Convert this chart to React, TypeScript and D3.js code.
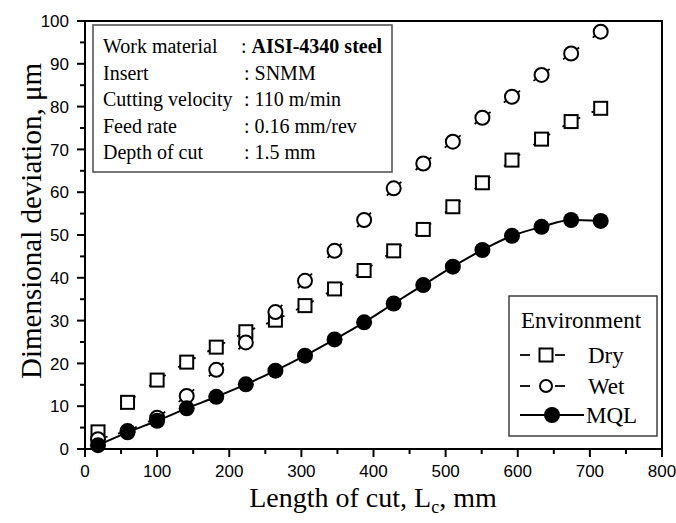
import React from "react";
import * as d3 from "d3";

const lengths = [18, 59, 100, 141, 182, 223, 264, 305, 346, 387, 428, 469, 510, 551, 592, 633, 674, 715];
const dry = [4.0, 10.9, 16.1, 20.3, 23.8, 27.4, 30.1, 33.5, 37.4, 41.7, 46.3, 51.3, 56.6, 62.2, 67.5, 72.4, 76.5, 79.6];
const wet = [2.3, 4.2, 7.3, 12.4, 18.5, 24.9, 32.0, 39.3, 46.3, 53.5, 60.9, 66.7, 71.8, 77.4, 82.3, 87.4, 92.4, 97.5];
const mql = [0.9, 3.9, 6.6, 9.5, 12.2, 15.1, 18.3, 21.8, 25.6, 29.6, 34.0, 38.3, 42.6, 46.5, 49.8, 51.9, 53.5, 53.3];

const xTicks = [0, 100, 200, 300, 400, 500, 600, 700, 800];
const yTicks = [0, 10, 20, 30, 40, 50, 60, 70, 80, 90, 100];
const infoLabels = ["Work material", "Insert", "Cutting velocity", "Feed rate", "Depth of cut"];
const infoValues = [": AISI-4340 steel", ": SNMM", ": 110 m/min", ": 0.16 mm/rev", ": 1.5 mm"];
const legendTitle = "Environment";
const legendNames = ["Dry", "Wet", "MQL"];

const W = 676, H = 523;
const L = 85, R = 662, T = 21, B = 449;

export default function App() {
  const x = d3.scaleLinear().domain([0, 800]).range([L, R]);
  const y = d3.scaleLinear().domain([0, 100]).range([B, T]);
  const serif = "'Liberation Serif', 'Times New Roman', serif";
  const sans = "'Liberation Sans', Arial, sans-serif";

  const dashedSegments = (vals: number[], hide: number) =>
    vals.slice(1).map((v, i) => {
      const x1 = x(lengths[i]), y1 = y(vals[i]), x2 = x(lengths[i + 1]), y2 = y(v);
      const len = Math.hypot(x2 - x1, y2 - y1);
      const a = hide;
      return (
        <line key={i} x1={x1} y1={y1} x2={x2} y2={y2} stroke="#000" strokeWidth={1.8}
          strokeDasharray={`${a} ${Math.max(0, len - 2 * a)} ${a}`} />
      );
    });

  const mqlLine = d3.line<number>().x((_, i) => x(lengths[i])).y((d) => y(d)).curve(d3.curveMonotoneX)(mql) || "";

  const minorX = d3.range(0, 801, 50).filter((v) => v % 100 !== 0);
  const minorY = d3.range(0, 101, 5).filter((v) => v % 10 !== 0);

  const lgX = 552;
  const lgRows = [355, 386, 415];

  return (
    <svg width={W} height={H} style={{ position: "absolute", left: 0, top: 0, background: "#fff" }}>
      {/* Info box */}
      <rect x={93} y={25} width={299} height={147} fill="#fff" stroke="#555" strokeWidth={1.6} />
      {infoLabels.map((t, i) => (
        <text key={t} x={103} y={53 + i * 26.6} fontFamily={serif} fontSize={20} fill="#000">{t}</text>
      ))}
      {infoValues.map((t, i) =>
        i === 0 ? (
          <text key={t} x={241} y={53} fontFamily={serif} fontSize={20} fill="#000">
            <tspan>: </tspan><tspan fontWeight="bold">AISI-4340 steel</tspan>
          </text>
        ) : (
          <text key={t} x={244} y={53 + i * 26.6} fontFamily={serif} fontSize={20} fill="#000">{t}</text>
        )
      )}

      {/* series */}
      {dashedSegments(dry, 10)}
      {dashedSegments(wet, 10)}
      <path d={mqlLine} fill="none" stroke="#000" strokeWidth={2} />
      {dry.map((v, i) => (
        <rect key={"d" + i} x={x(lengths[i]) - 6.5} y={y(v) - 6.5} width={13} height={13} fill="#fff" stroke="#000" strokeWidth={2} />
      ))}
      {wet.map((v, i) => (
        <circle key={"w" + i} cx={x(lengths[i])} cy={y(v)} r={7} fill="#fff" stroke="#000" strokeWidth={2} />
      ))}
      {mql.map((v, i) => (
        <circle key={"m" + i} cx={x(lengths[i])} cy={y(v)} r={8} fill="#000" />
      ))}

      {/* frame */}
      <rect x={L} y={T} width={R - L} height={B - T} fill="none" stroke="#000" strokeWidth={2} />

      {/* x ticks */}
      {xTicks.map((t) => (
        <g key={"xt" + t}>
          <line x1={x(t)} x2={x(t)} y1={B} y2={B + 8} stroke="#000" strokeWidth={2} />
          <text x={x(t)} y={477} textAnchor="middle" fontFamily={sans} fontSize={17} fill="#000">{t}</text>
        </g>
      ))}
      {minorX.map((t) => (
        <line key={"xm" + t} x1={x(t)} x2={x(t)} y1={B} y2={B + 5} stroke="#000" strokeWidth={2} />
      ))}
      {/* y ticks */}
      {yTicks.map((t) => (
        <g key={"yt" + t}>
          <line x1={L - 8} x2={L} y1={y(t)} y2={y(t)} stroke="#000" strokeWidth={2} />
          <text x={69} y={y(t)} dy="0.36em" textAnchor="end" fontFamily={sans} fontSize={17} fill="#000">{t}</text>
        </g>
      ))}
      {minorY.map((t) => (
        <line key={"ym" + t} x1={L - 5} x2={L} y1={y(t)} y2={y(t)} stroke="#000" strokeWidth={2} />
      ))}

      {/* axis titles */}
      <text x={373} y={507} textAnchor="middle" fontFamily={serif} fontSize={28} fill="#000">
        <tspan>Length of cut, L</tspan><tspan fontSize={18} dy={6}>c</tspan><tspan dy={-6}>, mm</tspan>
      </text>
      <text transform={`translate(41, 221) rotate(-90)`} textAnchor="middle" fontFamily={serif} fontSize={29} fill="#000">
        Dimensional deviation, μm
      </text>

      {/* legend */}
      <rect x={509} y={296} width={148} height={140} fill="#fff" stroke="#333" strokeWidth={1.4} />
      <text x={521} y={328} fontFamily={serif} fontSize={23} fill="#000">{legendTitle}</text>
      {/* Dry */}
      <line x1={520} x2={530} y1={lgRows[0]} y2={lgRows[0]} stroke="#000" strokeWidth={1.8} />
      <line x1={555} x2={565} y1={lgRows[0]} y2={lgRows[0]} stroke="#000" strokeWidth={1.8} />
      <rect x={lgX - 12.5} y={lgRows[0] - 6.5} width={13} height={13} fill="#fff" stroke="#000" strokeWidth={2} />
      {/* Wet */}
      <line x1={520} x2={530} y1={lgRows[1]} y2={lgRows[1]} stroke="#000" strokeWidth={1.8} />
      <line x1={555} x2={565} y1={lgRows[1]} y2={lgRows[1]} stroke="#000" strokeWidth={1.8} />
      <circle cx={lgX - 6} cy={lgRows[1]} r={6} fill="#fff" stroke="#000" strokeWidth={2} />
      {/* MQL */}
      <line x1={520} x2={584} y1={lgRows[2]} y2={lgRows[2]} stroke="#000" strokeWidth={2} />
      <circle cx={lgX} cy={lgRows[2]} r={8} fill="#000" />
      {legendNames.map((n, i) => (
        <text key={n} x={i === 2 ? 586 : 588} y={lgRows[i] + 8} fontFamily={serif} fontSize={23} fill="#000">{n}</text>
      ))}
    </svg>
  );
}
